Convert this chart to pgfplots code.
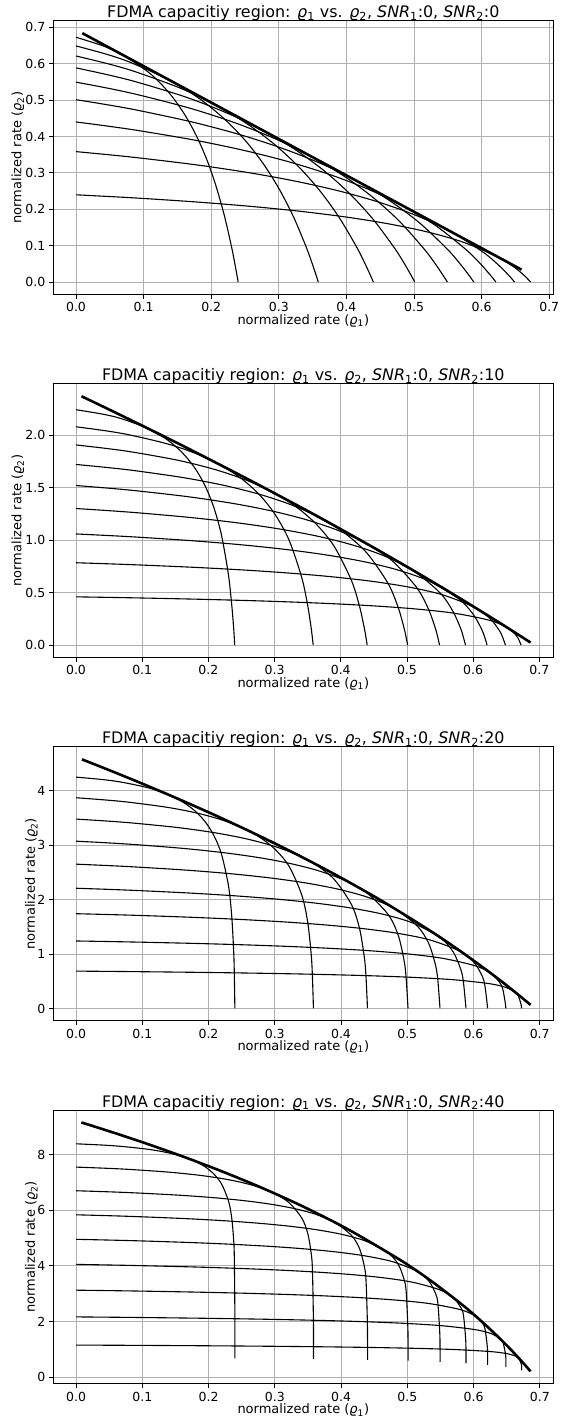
\documentclass[border=0pt]{standalone}
\usepackage{fontspec}
\setmainfont{DejaVu Sans}
\usepackage{pgfplots}
\usepackage{pgfplotstable}
\pgfplotsset{compat=1.18}

\newcommand{\rr}[1]{\textit{ϱ}\textsubscript{#1}}
\newcommand{\snr}[1]{\textit{SNR}\textsubscript{#1}}

% rows: power share p = 0,.05,.1,.2,...,.9,.95,.98,.99,.999,.9999 ; columns: bandwidth a = 0.1 ... 0.9
\pgfplotstableread{
x1 x2 x3 x4 x5 x6 x7 x8 x9 y1 y2 y3 y4 y5 y6 y7 y8 y9
0 0 0 0 0 0 0 0 0 0.6725 0.6487 0.6211 0.5885 0.5493 0.5011 0.4399 0.3584 0.2398
0.0405 0.0446 0.0462 0.0471 0.0477 0.0480 0.0483 0.0485 0.0487 0.6485 0.6262 0.6002 0.5694 0.5324 0.4866 0.4281 0.3498 0.2351
0.0693 0.0811 0.0863 0.0893 0.0912 0.0925 0.0935 0.0942 0.0948 0.6238 0.6030 0.5787 0.5498 0.5148 0.4715 0.4159 0.3409 0.2303
0.1099 0.1386 0.1532 0.1622 0.1682 0.1726 0.1759 0.1785 0.1806 0.5724 0.5545 0.5335 0.5084 0.4778 0.4394 0.3898 0.3219 0.2197
0.1386 0.1833 0.2079 0.2238 0.2350 0.2433 0.2497 0.2548 0.2589 0.5178 0.5029 0.4852 0.4639 0.4377 0.4046 0.3612 0.3008 0.2079
0.1609 0.2197 0.2542 0.2773 0.2939 0.3065 0.3164 0.3244 0.3310 0.4597 0.4477 0.4333 0.4159 0.3942 0.3665 0.3296 0.2773 0.1946
0.1792 0.2506 0.2942 0.3244 0.3466 0.3637 0.3773 0.3884 0.3976 0.3976 0.3884 0.3773 0.3637 0.3466 0.3244 0.2942 0.2506 0.1792
0.1946 0.2773 0.3296 0.3665 0.3942 0.4159 0.4333 0.4477 0.4597 0.3310 0.3244 0.3164 0.3065 0.2939 0.2773 0.2542 0.2197 0.1609
0.2079 0.3008 0.3612 0.4046 0.4377 0.4639 0.4852 0.5029 0.5178 0.2589 0.2548 0.2497 0.2433 0.2350 0.2238 0.2079 0.1833 0.1386
0.2197 0.3219 0.3898 0.4394 0.4778 0.5084 0.5335 0.5545 0.5724 0.1806 0.1785 0.1759 0.1726 0.1682 0.1622 0.1532 0.1386 0.1099
0.2303 0.3409 0.4159 0.4715 0.5148 0.5498 0.5787 0.6030 0.6238 0.0948 0.0942 0.0935 0.0925 0.0912 0.0893 0.0863 0.0811 0.0693
0.2351 0.3498 0.4281 0.4866 0.5324 0.5694 0.6002 0.6262 0.6485 0.0487 0.0485 0.0483 0.0480 0.0477 0.0471 0.0462 0.0446 0.0405
0.2380 0.3550 0.4352 0.4953 0.5426 0.5810 0.6128 0.6398 0.6630 0.0198 0.0198 0.0197 0.0197 0.0196 0.0195 0.0194 0.0191 0.0182
0.2389 0.3567 0.4376 0.4982 0.5460 0.5847 0.6170 0.6443 0.6677 0.0099 0.0099 0.0099 0.0099 0.0099 0.0098 0.0098 0.0098 0.0095
0.2397 0.3582 0.4397 0.5008 0.5490 0.5881 0.6207 0.6483 0.6720 0.0010 0.0010 0.0010 0.0010 0.0010 0.0010 0.0010 0.0010 0.0010
0.2398 0.3583 0.4399 0.5011 0.5493 0.5885 0.6211 0.6487 0.6724 0.0001 0.0001 0.0001 0.0001 0.0001 0.0001 0.0001 0.0001 0.0001
}\snrzero

\pgfplotstableread{
x1 x2 x3 x4 x5 x6 x7 x8 x9 y1 y2 y3 y4 y5 y6 y7 y8 y9
0 0 0 0 0 0 0 0 0 2.2447 2.0822 1.9089 1.7230 1.5223 1.3032 1.0608 0.7864 0.4615
0.0405 0.0446 0.0462 0.0471 0.0477 0.0480 0.0483 0.0485 0.0487 2.2024 2.0442 1.8754 1.6940 1.4979 1.2835 1.0459 0.7763 0.4564
0.0693 0.0811 0.0863 0.0893 0.0912 0.0925 0.0935 0.0942 0.0948 2.1581 2.0044 1.8402 1.6636 1.4722 1.2628 1.0302 0.7657 0.4511
0.1099 0.1386 0.1532 0.1622 0.1682 0.1726 0.1759 0.1785 0.1806 2.0623 1.9183 1.7640 1.5976 1.4166 1.2178 0.9961 0.7427 0.4394
0.1386 0.1833 0.2079 0.2238 0.2350 0.2433 0.2497 0.2548 0.2589 1.9550 1.8218 1.6785 1.5234 1.3540 1.1671 0.9576 0.7167 0.4263
0.1609 0.2197 0.2542 0.2773 0.2939 0.3065 0.3164 0.3244 0.3310 1.8332 1.7121 1.5811 1.4387 1.2825 1.1090 0.9134 0.6868 0.4111
0.1792 0.2506 0.2942 0.3244 0.3466 0.3637 0.3773 0.3884 0.3976 1.6923 1.5848 1.4680 1.3402 1.1989 1.0411 0.8615 0.6516 0.3932
0.1946 0.2773 0.3296 0.3665 0.3942 0.4159 0.4333 0.4477 0.4597 1.5251 1.4334 1.3330 1.2221 1.0986 0.9592 0.7988 0.6089 0.3714
0.2079 0.3008 0.3612 0.4046 0.4377 0.4639 0.4852 0.5029 0.5178 1.3197 1.2465 1.1655 1.0751 0.9730 0.8560 0.7194 0.5545 0.3434
0.2197 0.3219 0.3898 0.4394 0.4778 0.5084 0.5335 0.5545 0.5724 1.0531 1.0022 0.9450 0.8798 0.8047 0.7167 0.6111 0.4796 0.3045
0.2303 0.3409 0.4159 0.4715 0.5148 0.5498 0.5787 0.6030 0.6238 0.6725 0.6487 0.6211 0.5885 0.5493 0.5011 0.4399 0.3584 0.2398
0.2351 0.3498 0.4281 0.4866 0.5324 0.5694 0.6002 0.6262 0.6485 0.3976 0.3884 0.3773 0.3637 0.3466 0.3244 0.2942 0.2506 0.1792
0.2380 0.3550 0.4352 0.4953 0.5426 0.5810 0.6128 0.6398 0.6630 0.1806 0.1785 0.1759 0.1726 0.1682 0.1622 0.1532 0.1386 0.1099
0.2389 0.3567 0.4376 0.4982 0.5460 0.5847 0.6170 0.6443 0.6677 0.0948 0.0942 0.0935 0.0925 0.0912 0.0893 0.0863 0.0811 0.0693
0.2397 0.3582 0.4397 0.5008 0.5490 0.5881 0.6207 0.6483 0.6720 0.0099 0.0099 0.0099 0.0099 0.0099 0.0099 0.0098 0.0098 0.0095
0.2398 0.3583 0.4399 0.5011 0.5493 0.5885 0.6211 0.6487 0.6724 0.0010 0.0010 0.0010 0.0010 0.0010 0.0010 0.0010 0.0010 0.0010
}\snrten

\pgfplotstableread{
x1 x2 x3 x4 x5 x6 x7 x8 x9 y1 y2 y3 y4 y5 y6 y7 y8 y9
0 0 0 0 0 0 0 0 0 4.2475 3.8690 3.4782 3.0732 2.6517 2.2102 1.7436 1.2433 0.6909
0.0405 0.0446 0.0462 0.0471 0.0477 0.0480 0.0483 0.0485 0.0487 4.2018 3.8283 3.4425 3.0426 2.6261 2.1897 1.7283 1.2331 0.6858
0.0693 0.0811 0.0863 0.0893 0.0912 0.0925 0.0935 0.0942 0.0948 4.1536 3.7854 3.4050 3.0104 2.5992 2.1682 1.7121 1.2223 0.6804
0.1099 0.1386 0.1532 0.1622 0.1682 0.1726 0.1759 0.1785 0.1806 4.0487 3.6921 3.3232 2.9402 2.5407 2.1213 1.6769 1.1988 0.6686
0.1386 0.1833 0.2079 0.2238 0.2350 0.2433 0.2497 0.2548 0.2589 3.9300 3.5864 3.2306 2.8607 2.4744 2.0682 1.6370 1.1722 0.6553
0.1609 0.2197 0.2542 0.2773 0.2939 0.3065 0.3164 0.3244 0.3310 3.7931 3.4646 3.1238 2.7691 2.3979 2.0069 1.5910 1.1414 0.6399
0.1792 0.2506 0.2942 0.3244 0.3466 0.3637 0.3773 0.3884 0.3976 3.6317 3.3208 2.9978 2.6609 2.3076 1.9345 1.5366 1.1051 0.6217
0.1946 0.2773 0.3296 0.3665 0.3942 0.4159 0.4333 0.4477 0.4597 3.4348 3.1455 2.8440 2.5288 2.1972 1.8460 1.4701 1.0607 0.5994
0.2079 0.3008 0.3612 0.4046 0.4377 0.4639 0.4852 0.5029 0.5178 3.1825 2.9205 2.6467 2.3591 2.0554 1.7323 1.3845 1.0035 0.5707
0.2197 0.3219 0.3898 0.4394 0.4778 0.5084 0.5335 0.5545 0.5724 2.8306 2.6065 2.3708 2.1217 1.8568 1.5727 1.2644 0.9230 0.5303
0.2303 0.3409 0.4159 0.4715 0.5148 0.5498 0.5787 0.6030 0.6238 2.2447 2.0822 1.9089 1.7230 1.5223 1.3032 1.0608 0.7864 0.4615
0.2351 0.3498 0.4281 0.4866 0.5324 0.5694 0.6002 0.6262 0.6485 1.6923 1.5848 1.4680 1.3402 1.1989 1.0411 0.8615 0.6516 0.3932
0.2380 0.3550 0.4352 0.4953 0.5426 0.5810 0.6128 0.6398 0.6630 1.0531 1.0022 0.9450 0.8798 0.8047 0.7167 0.6111 0.4796 0.3045
0.2389 0.3567 0.4376 0.4982 0.5460 0.5847 0.6170 0.6443 0.6677 0.6725 0.6487 0.6211 0.5885 0.5493 0.5011 0.4399 0.3584 0.2398
0.2397 0.3582 0.4397 0.5008 0.5490 0.5881 0.6207 0.6483 0.6720 0.0948 0.0942 0.0935 0.0925 0.0912 0.0893 0.0863 0.0811 0.0693
0.2398 0.3583 0.4399 0.5011 0.5493 0.5885 0.6211 0.6487 0.6724 0.0099 0.0099 0.0099 0.0099 0.0099 0.0099 0.0098 0.0098 0.0095
}\snrtwenty

\pgfplotstableread{
x1 x2 x3 x4 x5 x6 x7 x8 x9 y1 y2 y3 y4 y5 y6 y7 y8 y9
0 0 0 0 0 0 0 0 0 8.3842 7.5468 6.6970 5.8327 4.9518 4.0507 3.1243 2.1640 1.1513
0.0405 0.0446 0.0462 0.0471 0.0477 0.0480 0.0483 0.0485 0.0487 8.3380 7.5058 6.6611 5.8019 4.9261 4.0301 3.1089 2.1537 1.1462
0.0693 0.0811 0.0863 0.0893 0.0912 0.0925 0.0935 0.0942 0.0948 8.2893 7.4626 6.6233 5.7695 4.8991 4.0085 3.0927 2.1429 1.1408
0.1099 0.1386 0.1532 0.1622 0.1682 0.1726 0.1759 0.1785 0.1806 8.1833 7.3683 6.5408 5.6989 4.8402 3.9614 3.0574 2.1193 1.1290
0.1386 0.1833 0.2079 0.2238 0.2350 0.2433 0.2497 0.2548 0.2589 8.0631 7.2615 6.4473 5.6188 4.7734 3.9080 3.0173 2.0926 1.1156
0.1609 0.2197 0.2542 0.2773 0.2939 0.3065 0.3164 0.3244 0.3310 7.9244 7.1382 6.3394 5.5262 4.6964 3.8464 2.9711 2.0618 1.1002
0.1792 0.2506 0.2942 0.3244 0.3466 0.3637 0.3773 0.3884 0.3976 7.7603 6.9924 6.2118 5.4169 4.6052 3.7734 2.9164 2.0253 1.0820
0.1946 0.2773 0.3296 0.3665 0.3942 0.4159 0.4333 0.4477 0.4597 7.5595 6.8139 6.0556 5.2830 4.4937 3.6842 2.8494 1.9807 1.0597
0.2079 0.3008 0.3612 0.4046 0.4377 0.4639 0.4852 0.5029 0.5178 7.3008 6.5838 5.8542 5.1104 4.3498 3.5691 2.7631 1.9232 1.0309
0.2197 0.3219 0.3898 0.4394 0.4778 0.5084 0.5335 0.5545 0.5724 6.9361 6.2595 5.5706 4.8672 4.1471 3.4070 2.6415 1.8421 0.9903
0.2303 0.3409 0.4159 0.4715 0.5148 0.5498 0.5787 0.6030 0.6238 6.3126 5.7054 5.0856 4.4515 3.8007 3.1298 2.4336 1.7035 0.9210
0.2351 0.3498 0.4281 0.4866 0.5324 0.5694 0.6002 0.6262 0.6485 5.6896 5.1515 4.6009 4.0360 3.4544 2.8527 2.2258 1.5649 0.8517
0.2380 0.3550 0.4352 0.4953 0.5426 0.5810 0.6128 0.6398 0.6630 4.8674 4.4204 3.9610 3.4873 2.9970 2.4866 1.9511 1.3818 0.7601
0.2389 0.3567 0.4376 0.4982 0.5460 0.5847 0.6170 0.6443 0.6677 4.2476 3.8690 3.4782 3.0732 2.6517 2.2102 1.7436 1.2433 0.6909
0.2397 0.3582 0.4397 0.5008 0.5490 0.5881 0.6207 0.6483 0.6720 2.2447 2.0822 1.9089 1.7230 1.5223 1.3032 1.0608 0.7864 0.4615
0.2398 0.3583 0.4399 0.5011 0.5493 0.5885 0.6211 0.6487 0.6724 0.6725 0.6487 0.6211 0.5885 0.5493 0.5011 0.4399 0.3584 0.2398
}\snrforty

% outer boundaries (thick lines)
\pgfplotstableread{
x y
0.0093 0.6838
0.6590 0.0341
}\envzero
\pgfplotstableread{
x y
0.0083 2.3730
0.0129 2.3592
0.0453 2.2610
0.0925 2.1162
0.1407 1.9659
0.1899 1.8095
0.2659 1.5622
0.3447 1.2978
0.3988 1.1106
0.4544 0.9135
0.5116 0.7055
0.5703 0.4851
0.6308 0.2505
0.6617 0.1274
0.6868 0.0258
}\envten
\pgfplotstableread{
x y
0.0089 4.5730
0.0205 4.5178
0.0500 4.3758
0.1007 4.1243
0.1535 3.8521
0.2088 3.5552
0.2666 3.2287
0.3275 2.8660
0.3917 2.4581
0.4597 1.9924
0.5321 1.4501
0.5779 1.0766
0.6258 0.6562
0.6589 0.3438
0.6862 0.0716
}\envtwenty
\pgfplotstableread{
x y
0.0081 9.1508
0.0247 9.0279
0.0679 8.6976
0.1139 8.3281
0.1633 7.9096
0.2165 7.4278
0.2745 6.8622
0.3382 6.1800
0.4091 5.3275
0.4894 4.2059
0.5340 3.4877
0.5823 2.6091
0.6133 1.9751
0.6462 1.2311
0.6692 0.6562
0.6859 0.2066
}\envforty

\pgfplotsset{
  /pgfplots/ylabshift/.initial=-31.8pt,
  fdma/.style={
    width=500pt, height=273.8pt, scale only axis,
    anchor=north west,
    grid=major,
    major grid style={color=black!31, line width=0.9pt},
    axis line style={line width=0.9pt},
    tick pos=left, tick align=outside,
    major tick length=4.5pt,
    every tick/.style={black, line width=0.9pt},
    xtick={0,0.1,0.2,0.3,0.4,0.5,0.6,0.7},
    /pgf/number format/assume math mode=true,
    tick label style={font=\fontsize{12.5}{14}\selectfont},
    xticklabel style={/pgf/number format/.cd, fixed, fixed zerofill, precision=1},
    every axis title shift=0pt,
    title style={at={(0.5,1)}, anchor=base, yshift=3pt, inner sep=0pt,
      font=\fontsize{15.9}{18}\selectfont},
    every axis x label/.style={at={(axis description cs:0.5,0)}, anchor=base,
      yshift=-29.7pt, inner sep=0pt, font=\fontsize{13}{15}\selectfont},
    every axis y label/.style={at={(axis description cs:0,0.5)},
      xshift=\pgfkeysvalueof{/pgfplots/ylabshift},
      rotate=90, anchor=base, inner sep=0pt, font=\fontsize{13}{15}\selectfont},
    xlabel={normalized rate (\rr{1})},
    ylabel={normalized rate (\rr{2})},
    thin/.style={black, line width=1.1pt, smooth, no markers},
    thick/.style={black, line width=2.6pt, no markers},
  },
}

\begin{document}
\begin{tikzpicture}
\begin{axis}[fdma, at={(0pt,0pt)},
  xmin=-0.0336, xmax=0.7060, ymin=-0.0341, ymax=0.7180,
  ytick={0,0.1,0.2,0.3,0.4,0.5,0.6,0.7},
  yticklabel style={/pgf/number format/.cd, fixed, fixed zerofill, precision=1},
  title={FDMA capacitiy region: \rr{1} vs. \rr{2}, \snr{1}:0, \snr{2}:0}]
  \pgfplotsinvokeforeach{1,...,9}{\addplot[thin] table[x=x#1, y=y#1]{\snrzero};}
  \addplot[thick] table[x=x, y=y]{\envzero};
\end{axis}

\begin{axis}[fdma, at={(0pt,-363.1pt)},
  xmin=-0.0343, xmax=0.7211, ymin=-0.1176, ymax=2.4916,
  ytick={0,0.5,1,1.5,2},
  yticklabel style={/pgf/number format/.cd, fixed, fixed zerofill, precision=1},
  title={FDMA capacitiy region: \rr{1} vs. \rr{2}, \snr{1}:0, \snr{2}:10}]
  \pgfplotsinvokeforeach{1,...,9}{\addplot[thin] table[x=x#1, y=y#1]{\snrten};}
  \addplot[thick, smooth] table[x=x, y=y]{\envten};
\end{axis}

\begin{axis}[fdma, at={(0pt,-726.2pt)}, ylabshift=-18.3pt,
  xmin=-0.0343, xmax=0.7205, ymin=-0.2187, ymax=4.8012,
  ytick={0,1,2,3,4},
  title={FDMA capacitiy region: \rr{1} vs. \rr{2}, \snr{1}:0, \snr{2}:20}]
  \pgfplotsinvokeforeach{1,...,9}{\addplot[thin] table[x=x#1, y=y#1]{\snrtwenty};}
  \addplot[thick, smooth] table[x=x, y=y]{\envtwenty};
\end{axis}

\begin{axis}[fdma, at={(0pt,-1089.3pt)}, ylabshift=-18.3pt,
  xmin=-0.0343, xmax=0.7202, ymin=-0.2406, ymax=9.5980,
  ytick={0,2,4,6,8},
  title={FDMA capacitiy region: \rr{1} vs. \rr{2}, \snr{1}:0, \snr{2}:40}]
  \pgfplotsinvokeforeach{1,...,9}{\addplot[thin] table[x=x#1, y=y#1]{\snrforty};}
  \addplot[thick, smooth] table[x=x, y=y]{\envforty};
\end{axis}

\pgfresetboundingbox
\path[use as bounding box] (-53.3pt,20.7pt) rectangle (510.7pt,-1396.3pt);
\end{tikzpicture}
\end{document}
